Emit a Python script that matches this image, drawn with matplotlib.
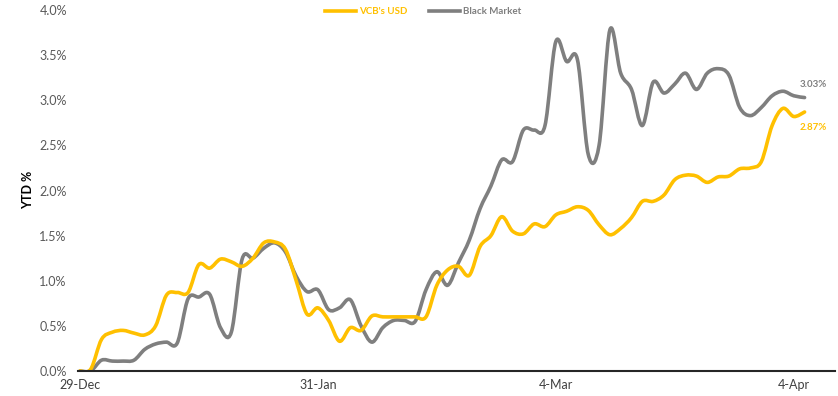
import matplotlib.pyplot as plt
import numpy as np
from matplotlib.path import Path
from matplotlib.patches import PathPatch
from matplotlib.lines import Line2D
from matplotlib.ticker import FuncFormatter

plt.rcParams['font.family'] = ['Lato', 'DejaVu Sans']

# YTD change, % (one point per trading day)
vcb_usd = [0.0, 0.02, 0.35, 0.43, 0.45, 0.42, 0.40, 0.50, 0.84, 0.87,
           0.87, 1.18, 1.14, 1.24, 1.21, 1.16, 1.25, 1.42, 1.43, 1.35,
           1.00, 0.63, 0.70, 0.56, 0.33, 0.48, 0.45, 0.61, 0.60, 0.60,
           0.60, 0.60, 0.60, 0.95, 1.12, 1.16, 1.06, 1.38, 1.50, 1.71,
           1.55, 1.52, 1.63, 1.60, 1.73, 1.77, 1.82, 1.78, 1.62, 1.51,
           1.58, 1.70, 1.88, 1.88, 1.95, 2.12, 2.17, 2.16, 2.09, 2.15,
           2.16, 2.24, 2.25, 2.32, 2.72, 2.91, 2.82, 2.87]
black_market = [0.0, 0.0, 0.12, 0.11, 0.11, 0.12, 0.24, 0.30, 0.32, 0.31,
                0.80, 0.82, 0.85, 0.48, 0.43, 1.24, 1.25, 1.36, 1.42, 1.32,
                1.05, 0.88, 0.90, 0.68, 0.70, 0.79, 0.50, 0.32, 0.48, 0.56,
                0.56, 0.55, 0.90, 1.10, 0.95, 1.20, 1.45, 1.80, 2.05, 2.34,
                2.32, 2.67, 2.67, 2.72, 3.65, 3.43, 3.45, 2.40, 2.50, 3.78,
                3.30, 3.12, 2.72, 3.20, 3.08, 3.18, 3.30, 3.12, 3.30, 3.35,
                3.28, 2.92, 2.83, 2.92, 3.05, 3.10, 3.05, 3.03]
tick_pos = [0, 22, 44, 66]
tick_labels = ['29-Dec', '31-Jan', '4-Mar', '4-Apr']

yellow = '#FFC000'
grey = '#7F7F7F'


def smooth_path(vals):
    # bezier through the points, like excel's "smoothed line"
    y = np.asarray(vals, float)
    x = np.arange(len(y), dtype=float)
    n = len(y)
    verts = [(x[0], y[0])]
    codes = [Path.MOVETO]
    for i in range(n - 1):
        a = max(i - 1, 0)
        d = min(i + 2, n - 1)
        c1 = (x[i] + (x[i + 1] - x[a]) / 6, y[i] + (y[i + 1] - y[a]) / 6)
        c2 = (x[i + 1] - (x[d] - x[i]) / 6, y[i + 1] - (y[d] - y[i]) / 6)
        verts += [c1, c2, (x[i + 1], y[i + 1])]
        codes += [Path.CURVE4] * 3
    return Path(verts, codes)


fig = plt.figure(figsize=(8.38, 3.96), dpi=100)
ax = fig.add_axes([0.093, 0.0631, 0.903, 0.9116])

for vals, col in [(black_market, grey), (vcb_usd, yellow)]:
    ax.add_patch(PathPatch(smooth_path(vals), fill=False, edgecolor=col,
                           lw=2.6, capstyle='round', joinstyle='round'))

ax.set_xlim(-0.18, 69.78)
ax.set_ylim(0, 4.0)
ax.set_yticks(np.arange(0, 4.01, 0.5))
ax.yaxis.set_major_formatter(FuncFormatter(lambda v, p: f'{v:.1f}%'))
ax.set_xticks(tick_pos)
ax.set_xticklabels(tick_labels)
ax.tick_params(axis='both', length=0, labelsize=9, colors='#404040')
ax.tick_params(axis='y', pad=8, labelcolor='#595959')
ax.tick_params(axis='x', pad=6)

for s in ['top', 'right', 'left']:
    ax.spines[s].set_visible(False)
ax.spines['bottom'].set_color('#262626')
ax.spines['bottom'].set_linewidth(1.5)

fig.text(0.033, 0.52, 'YTD %', rotation=90, fontsize=9,
         fontweight='bold', va='center', ha='center')

n = len(vcb_usd)
ax.text(n - 0.2, black_market[-1] + 0.14, f'{black_market[-1]:.2f}%',
        color=grey, fontsize=7, fontweight='bold', ha='center', va='center')
ax.text(n - 0.2, vcb_usd[-1] - 0.17, f'{vcb_usd[-1]:.2f}%',
        color=yellow, fontsize=7, fontweight='bold', ha='center', va='center')

handles = [Line2D([], [], color=yellow, lw=2.6),
           Line2D([], [], color=grey, lw=2.6)]
leg = fig.legend(handles, ["VCB's USD", 'Black Market'], loc='center',
                 bbox_to_anchor=(0.505, 0.97), ncol=2, frameon=False,
                 fontsize=7, handlelength=3.2, handletextpad=0.3,
                 columnspacing=2.2)
for t, col in zip(leg.get_texts(), [yellow, grey]):
    t.set_color(col)
    t.set_fontweight('bold')

fig.savefig('out.png', dpi=100)
